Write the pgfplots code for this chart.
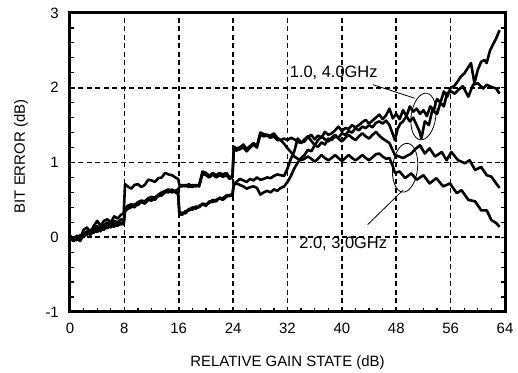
\documentclass[border=0pt]{standalone}
\usepackage{pgfplots}
\pgfplotsset{compat=1.18}
\usepackage{fontspec}
\setmainfont{Liberation Sans}
\usetikzlibrary{shapes.geometric}
\begin{document}
\begin{tikzpicture}
\begin{axis}[
  name=ax, at={(0,0)}, anchor=south west,
  scale only axis, width=435bp, height=299bp,
  xmin=0, xmax=64, ymin=-1, ymax=3,
  xtick={0,8,16,24,32,40,48,56,64}, xticklabels={0,8,16,24,32,40,48,56,64},
  ytick={-1,0,1,2,3}, yticklabels={-1,0,1,2,3},
  minor x tick num=3, minor y tick num=4,
  xtick pos=bottom, ytick pos=both,
  tick align=inside,
  major tick length=4bp, minor tick length=4bp,
  every tick/.style={black, line width=1.2bp},
  grid=major,
  major grid style={black, line width=1.7bp, dash pattern=on 5bp off 3.5bp},
  axis line style={line width=3bp},
  tick label style={font=\fontsize{15}{18}\selectfont},
  xticklabel style={anchor=base, inner sep=0pt, yshift=-22bp},
  yticklabel style={anchor=east, inner sep=0pt, xshift=-11bp},
  xlabel={RELATIVE GAIN STATE (dB)},
  ylabel={BIT ERROR (dB)},
  every axis x label/.style={at={(axis description cs:0.5,-0.181)}, anchor=base, font=\fontsize{15}{18}\selectfont},
  every axis y label/.style={at={(axis description cs:-0.1126,0.52)}, rotate=90, anchor=center, font=\fontsize{15}{18}\selectfont},
]
% curve 1 (ends near 2.8)
\addplot[black, line width=2.6bp, line join=round, no marks] coordinates {
(0,0.0)(0.5,-0.05)(1,0.02)(1.5,-0.03)(2,0.06)(2.5,0.03)(3,0.1)(3.5,0.06)(4,0.12)(4.5,0.08)(5,0.15)(5.5,0.12)(6,0.18)(6.5,0.14)(7,0.2)(7.5,0.17)(7.9,0.2)(8.1,0.37)(8.5,0.4)(9,0.42)(9.5,0.4)(10,0.46)(10.5,0.47)(11,0.45)(11.5,0.5)(12,0.52)(12.5,0.5)(13,0.56)(13.5,0.58)(14,0.61)(14.5,0.6)(15,0.64)(15.5,0.6)(15.9,0.58)(16.1,0.32)(16.5,0.3)(17,0.35)(17.5,0.36)(18,0.4)(18.5,0.38)(19,0.42)(19.5,0.44)(20,0.42)(20.5,0.48)(21,0.47)(21.5,0.5)(22,0.52)(22.5,0.5)(23,0.54)(23.5,0.57)(23.9,0.55)(24.1,0.72)(24.5,0.74)(25,0.78)(25.5,0.76)(26,0.74)(26.5,0.78)(27,0.76)(27.5,0.8)(28,0.77)(28.5,0.78)(29,0.8)(29.5,0.79)(30,0.82)(30.5,0.84)(31,0.83)(31.5,0.82)(32,0.92)(32.5,1.05)(33,1.15)(33.5,1.32)(34,1.27)(34.5,1.28)(35,1.34)(35.5,1.37)(36,1.31)(36.5,1.36)(37,1.33)(37.5,1.41)(38,1.37)(38.5,1.39)(39,1.43)(39.5,1.48)(40,1.42)(40.5,1.46)(41,1.45)(41.5,1.50)(42,1.47)(42.5,1.5)(43,1.54)(43.5,1.57)(44,1.52)(44.5,1.56)(45,1.6)(45.5,1.64)(46,1.58)(46.5,1.63)(47,1.72)(47.5,1.59)(48,1.65)(48.5,1.58)(49,1.7)(49.5,1.62)(50,1.75)(50.5,1.68)(51,1.72)(51.5,1.65)(52,1.7)(52.5,1.62)(53,1.75)(53.5,1.7)(54,1.85)(54.5,1.8)(55,1.95)(55.5,1.88)(56,2.0)(56.5,2.02)(57,2.08)(57.5,2.15)(58,2.19)(58.5,2.26)(59,2.33)(59.5,2.06)(60,2.24)(60.5,2.35)(61,2.37)(61.3,2.33)(61.8,2.5)(62.3,2.59)(62.7,2.66)(63.2,2.77)
};
% curve 2 (ends near 1.95)
\addplot[black, line width=2.6bp, line join=round, no marks] coordinates {
(0,0.02)(0.5,-0.02)(1,-0.04)(1.5,0.03)(2,0.0)(2.5,0.06)(3,0.04)(3.5,0.1)(4,0.07)(4.5,0.12)(5,0.1)(5.5,0.16)(6,0.13)(6.5,0.18)(7,0.15)(7.5,0.2)(7.9,0.17)(8.1,0.35)(8.5,0.38)(9,0.4)(9.5,0.44)(10,0.43)(10.5,0.48)(11,0.47)(11.5,0.5)(12,0.49)(12.5,0.53)(13,0.55)(13.5,0.56)(14,0.6)(14.5,0.62)(15,0.6)(15.5,0.62)(15.9,0.6)(16.1,0.3)(16.5,0.33)(17,0.32)(17.5,0.38)(18,0.37)(18.5,0.41)(19,0.4)(19.5,0.45)(20,0.44)(20.5,0.46)(21,0.5)(21.5,0.48)(22,0.53)(22.5,0.52)(23,0.56)(23.5,0.55)(23.9,0.58)(24.1,0.7)(24.5,0.72)(25,0.7)(25.5,0.68)(26,0.65)(26.5,0.67)(27,0.68)(27.5,0.66)(28,0.57)(28.5,0.6)(29,0.62)(29.5,0.6)(30,0.64)(30.5,0.62)(31,0.66)(31.5,0.68)(32,0.74)(32.5,0.82)(33,0.92)(33.5,1.0)(34,1.06)(34.5,1.1)(35,1.17)(35.5,1.15)(36,1.23)(36.5,1.21)(37,1.27)(37.5,1.24)(38,1.32)(38.5,1.3)(39,1.35)(39.5,1.33)(40,1.39)(40.5,1.37)(41,1.42)(41.5,1.4)(42,1.46)(42.5,1.43)(43,1.48)(43.5,1.46)(44,1.5)(44.5,1.47)(45,1.53)(45.5,1.55)(46,1.52)(46.5,1.56)(47,1.5)(47.5,1.38)(47.8,1.3)(48.2,1.45)(48.6,1.52)(49,1.55)(49.5,1.62)(50,1.55)(50.5,1.6)(51,1.5)(51.4,1.42)(51.7,1.32)(52.2,1.55)(52.8,1.5)(53.3,1.7)(54,1.65)(54.5,1.8)(55,1.75)(55.5,1.93)(56.1,1.95)(56.6,1.92)(57.1,1.97)(57.8,2.02)(58.6,1.88)(59.3,2.04)(60,2.06)(60.8,1.99)(61.3,2.04)(62,2.01)(62.7,1.99)(63.2,1.92)
};
% curve 3 (ends near 0.65)
\addplot[black, line width=2.6bp, line join=round, no marks] coordinates {
(0,0.02)(0.5,-0.03)(1,0.0)(1.5,-0.02)(2,0.1)(2.5,0.13)(3,0.06)(3.5,0.15)(4,0.22)(4.5,0.15)(5,0.22)(5.5,0.24)(6,0.2)(6.5,0.28)(7,0.25)(7.5,0.3)(7.9,0.32)(8.1,0.71)(8.5,0.68)(9,0.65)(9.5,0.7)(10,0.71)(10.5,0.67)(11,0.7)(11.5,0.77)(12,0.76)(12.5,0.74)(13,0.79)(13.5,0.8)(14,0.86)(14.5,0.84)(15,0.83)(15.5,0.8)(15.9,0.78)(16.1,0.7)(16.5,0.68)(17,0.7)(17.5,0.67)(18,0.7)(18.5,0.68)(19,0.7)(19.5,0.88)(20,0.86)(20.5,0.82)(21,0.86)(21.5,0.83)(22,0.86)(22.5,0.84)(23,0.86)(23.5,0.8)(23.9,0.82)(24.1,1.21)(24.5,1.19)(25,1.2)(25.5,1.24)(26,1.18)(26.5,1.22)(27,1.26)(27.5,1.22)(28,1.4)(28.5,1.38)(29,1.37)(29.5,1.36)(30,1.39)(30.5,1.33)(31,1.3)(31.5,1.32)(32,1.3)(32.5,1.33)(33,1.31)(33.5,1.28)(34,1.26)(34.5,1.31)(35,1.35)(35.5,1.29)(36,1.23)(36.5,1.3)(37,1.35)(37.5,1.31)(38,1.28)(38.5,1.33)(39,1.37)(39.5,1.32)(40,1.28)(40.5,1.33)(41,1.37)(41.5,1.33)(42,1.3)(42.5,1.35)(43,1.39)(43.5,1.35)(44,1.32)(44.5,1.37)(45,1.41)(45.5,1.36)(46,1.32)(46.5,1.29)(47,1.26)(47.4,1.18)(47.8,1.1)(48.4,1.08)(49,1.06)(49.6,1.09)(50.2,1.12)(50.8,1.18)(51.5,1.23)(52.2,1.12)(52.9,1.19)(53.7,1.08)(54.7,1.14)(55.4,1.03)(56.1,1.14)(57.1,1.03)(58.1,0.99)(58.8,1.03)(59.6,0.9)(60.5,0.94)(61.3,0.83)(62,0.81)(62.7,0.72)(63.2,0.66)
};
% curve 4 (ends near 0.15)
\addplot[black, line width=2.6bp, line join=round, no marks] coordinates {
(0,0.0)(0.5,-0.05)(1,-0.02)(1.5,-0.05)(2,0.04)(2.5,0.08)(3,0.03)(3.5,0.1)(4,0.15)(4.5,0.1)(5,0.16)(5.5,0.2)(6,0.15)(6.5,0.22)(7,0.2)(7.5,0.24)(7.9,0.22)(8.1,0.39)(8.5,0.42)(9,0.44)(9.5,0.43)(10,0.47)(10.5,0.49)(11,0.48)(11.5,0.52)(12,0.54)(12.5,0.53)(13,0.57)(13.5,0.6)(14,0.62)(14.5,0.64)(15,0.61)(15.5,0.62)(15.9,0.64)(16.1,0.67)(16.5,0.7)(17,0.68)(17.5,0.71)(18,0.67)(18.5,0.7)(19,0.68)(19.5,0.85)(20,0.83)(20.5,0.8)(21,0.84)(21.5,0.8)(22,0.83)(22.5,0.81)(23,0.83)(23.5,0.78)(23.9,0.8)(24.1,1.17)(24.5,1.16)(25,1.18)(25.5,1.2)(26,1.15)(26.5,1.2)(27,1.24)(27.5,1.2)(28,1.37)(28.5,1.35)(29,1.36)(29.5,1.33)(30,1.35)(30.5,1.3)(31,1.3)(31.5,1.25)(32,1.19)(32.5,1.14)(33,1.08)(33.5,1.05)(34,1.03)(34.5,1.05)(35,1.08)(35.5,1.05)(36,1.01)(36.5,1.05)(37,1.10)(37.5,1.06)(38,1.03)(38.5,1.06)(39,1.1)(39.5,1.06)(40,1.02)(40.5,1.06)(41,1.1)(41.5,1.06)(42,1.03)(42.5,1.06)(43,1.1)(43.5,1.06)(44,1.03)(44.5,1.07)(45,1.11)(45.5,1.12)(46,1.08)(46.5,1.05)(47,1.06)(47.5,0.95)(47.8,0.86)(48.5,0.88)(49.3,0.79)(50.2,0.855)(51,0.77)(52,0.83)(52.9,0.72)(53.9,0.79)(54.9,0.68)(55.9,0.72)(56.9,0.59)(57.6,0.63)(58.6,0.5)(59.6,0.48)(60.5,0.36)(61.3,0.36)(62,0.23)(62.7,0.19)(63.2,0.14)
};
% annotations
\node[font=\fontsize{16.5}{19}\selectfont, inner sep=0pt] at (axis cs:38.8,2.197) {1.0, 4.0GHz};
\node[font=\fontsize{16.5}{19}\selectfont, inner sep=0pt] at (axis cs:40.2,-0.09) {2.0, 3.0GHz};
\draw[line width=0.8bp] (axis cs:44.6,2.04) -- (axis cs:50.7,1.86);
\draw[line width=0.8bp] (axis cs:43.8,0.17) -- (axis cs:49.0,0.63);
\node[draw, line width=0.8bp, ellipse, inner sep=0pt, minimum width=24.6bp, minimum height=47bp, rotate=-8] at (axis cs:52.0,1.615) {};
\node[draw, line width=0.8bp, ellipse, inner sep=0pt, minimum width=25bp, minimum height=49bp, rotate=-6] at (axis cs:49.3,0.93) {};
\end{axis}
\pgfresetboundingbox
\path ([shift={(-70bp,-61bp)}]ax.south west) rectangle ([shift={(13bp,13bp)}]ax.north east);
\end{tikzpicture}
\end{document}
